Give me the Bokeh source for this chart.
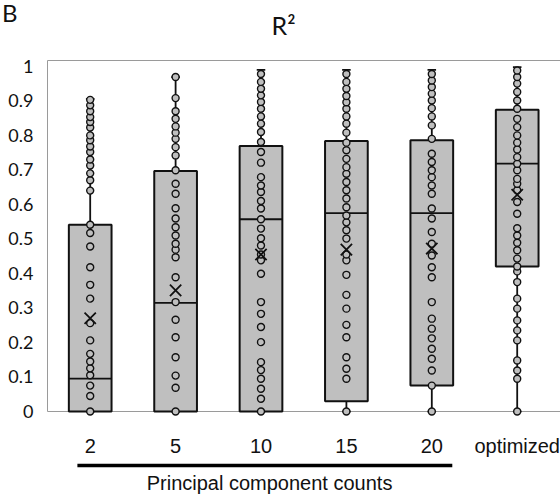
from bokeh.plotting import figure
from bokeh.models import ColumnDataSource, Range1d
from bokeh.core.properties import value
from bokeh.embed import file_html
from bokeh.resources import INLINE

# ---- data ----
categories = ["2", "5", "10", "15", "20", "optimized"]
q1 = [0.0, 0.0, 0.0, 0.03, 0.075, 0.42]
median = [0.095, 0.315, 0.557, 0.575, 0.575, 0.718]
q3 = [0.541, 0.697, 0.769, 0.784, 0.786, 0.874]
low = [0.0, 0.0, 0.0, 0.0, 0.0, 0.0]
high = [0.906, 0.969, 0.99, 0.99, 0.99, 0.998]
mean = [0.27, 0.351, 0.455, 0.469, 0.472, 0.628]

pts_2 = [0, 0.045, 0.075, 0.105, 0.125, 0.145, 0.167, 0.206, 0.256, 0.327, 0.367,
         0.418, 0.478, 0.517, 0.541, 0.64, 0.67, 0.69, 0.713, 0.73, 0.752, 0.768,
         0.786, 0.80, 0.823, 0.839, 0.853, 0.870, 0.887, 0.903]
pts_5 = [0, 0.069, 0.104, 0.157, 0.215, 0.266, 0.317, 0.389, 0.447, 0.469, 0.486,
         0.510, 0.534, 0.559, 0.589, 0.631, 0.660, 0.699, 0.742, 0.766, 0.790,
         0.808, 0.826, 0.848, 0.870, 0.908, 0.969]
pts_10 = [0, 0.037, 0.066, 0.095, 0.120, 0.143, 0.201, 0.245, 0.283, 0.317, 0.399,
          0.438, 0.455, 0.481, 0.502, 0.530, 0.557, 0.588, 0.610, 0.636, 0.655,
          0.679, 0.721, 0.752, 0.781, 0.810, 0.834, 0.855, 0.877, 0.897, 0.916,
          0.935, 0.955, 0.978]
pts_15 = [0, 0.095, 0.124, 0.157, 0.215, 0.251, 0.298, 0.338, 0.396, 0.438, 0.455,
          0.501, 0.525, 0.548, 0.568, 0.592, 0.617, 0.641, 0.665, 0.689, 0.708,
          0.732, 0.757, 0.779, 0.808, 0.834, 0.855, 0.877, 0.896, 0.914, 0.935,
          0.955, 0.978]
pts_20 = [0, 0.075, 0.119, 0.153, 0.182, 0.212, 0.240, 0.269, 0.317, 0.389, 0.418,
          0.452, 0.486, 0.520, 0.559, 0.588, 0.631, 0.655, 0.679, 0.699, 0.723,
          0.747, 0.790, 0.829, 0.855, 0.879, 0.901, 0.921, 0.940, 0.959, 0.978]
pts_opt = [0, 0.095, 0.119, 0.148, 0.206, 0.235, 0.264, 0.298, 0.327, 0.375, 0.406,
           0.420, 0.443, 0.467, 0.489, 0.510, 0.531, 0.573, 0.607, 0.641, 0.660,
           0.674, 0.699, 0.718, 0.737, 0.759, 0.779, 0.800, 0.824, 0.848, 0.877,
           0.901, 0.926, 0.950, 0.969, 0.988]
points = [pts_2, pts_5, pts_10, pts_15, pts_20, pts_opt]

y_ticks = [0, 0.1, 0.2, 0.3, 0.4, 0.5, 0.6, 0.7, 0.8, 0.9, 1]
y_tick_labels = ["0", "0.1", "0.2", "0.3", "0.4", "0.5", "0.6", "0.7", "0.8", "0.9", "1"]

title_text = "R\u00b2"
panel_letter = "B"
group_label = "Principal component counts"
group_first, group_last = 1, 5     # categories "2" .. "20" are bracketed

# ---- layout (pixels) ----
W, H = 560, 495
LEFT_PX = 47            # plot area starts here
TOP_PX = 60             # y = Y_TOP here
ZERO_PX = 411           # y = 0 here
Y_TOP = 1.017
CAT_PX = 85.4           # one category step
BOX_W = 0.5
CAP_W = 0.1
INK = "#111111"
BOX_FILL = "#BFBFBF"
FRAME = "#9a9a9a"

ppu = (ZERO_PX - TOP_PX) / Y_TOP            # pixels per unit of R^2


def yv(px):                                   # canvas row -> data value
    return (ZERO_PX - px) / ppu


def xv(px):                                   # canvas column -> category coordinate
    return 0.5 + (px - LEFT_PX) / CAT_PX


xpos = list(range(1, len(categories) + 1))
X_END = xv(W)

stats = ColumnDataSource(dict(
    x=xpos, q1=q1, med=median, q3=q3, lo=low, hi=high, mean=mean,
    xl=[x - BOX_W / 2 for x in xpos], xr=[x + BOX_W / 2 for x in xpos],
    cl=[x - CAP_W / 2 for x in xpos], cr=[x + CAP_W / 2 for x in xpos],
))
px, py = [], []
for x, vals in zip(xpos, points):
    px += [x] * len(vals)
    py += vals
pts = ColumnDataSource(dict(x=px, y=py))

p = figure(width=W, height=H, output_backend="svg", toolbar_location=None,
           x_range=Range1d(xv(0), X_END), y_range=Range1d(yv(H), yv(0)),
           x_axis_location=None, y_axis_location=None, min_border=0,
           background_fill_color="white", border_fill_color="white")
p.xgrid.visible = False
p.ygrid.visible = False
p.outline_line_color = None

# plot-area border (left, top) and category axis line
p.segment(x0=[0.5, 0.5, 0.5], y0=[0, Y_TOP, 0], x1=[0.5, X_END, X_END], y1=[Y_TOP, Y_TOP, 0],
          line_color=FRAME, line_width=1)

# whiskers and caps
p.segment(x0="x", y0="q3", x1="x", y1="hi", source=stats, line_color=INK, line_width=1.8)
p.segment(x0="x", y0="lo", x1="x", y1="q1", source=stats, line_color=INK, line_width=1.8)
p.segment(x0="cl", y0="hi", x1="cr", y1="hi", source=stats, line_color=INK, line_width=1.8)
p.segment(x0="cl", y0="lo", x1="cr", y1="lo", source=stats, line_color=INK, line_width=1.8)
# boxes and medians
p.vbar(x="x", width=BOX_W, bottom="q1", top="q3", source=stats,
       fill_color=BOX_FILL, line_color=INK, line_width=2)
p.segment(x0="xl", y0="med", x1="xr", y1="med", source=stats, line_color=INK, line_width=1.8)
# inner points and means
p.scatter(x="x", y="y", source=pts, marker="circle", size=7,
          fill_color=BOX_FILL, line_color=INK, line_width=1.4)
p.scatter(x="x", y="mean", source=stats, marker="x", size=16,
          line_color=INK, line_width=1.8)

# value-axis tick labels
p.text(x=[xv(33)] * len(y_ticks), y=y_ticks, text=y_tick_labels,
       text_align="right", text_baseline="middle", text_font=value("Lato"),
       text_font_size="18px", text_color=INK)

# category labels
p.text(x=xpos, y=[yv(445)] * len(xpos), text=categories,
       text_align="center", text_baseline="middle",
       text_font=value("Liberation Sans"), text_font_size="20px", text_color=INK)

# group bracket and its label
p.segment(x0=[group_first - 0.15], x1=[group_last + 0.24], y0=[yv(465)], y1=[yv(465)],
          line_color="black", line_width=3.4)
p.text(x=[(group_first + group_last) / 2 + 0.1], y=[yv(482)], text=[group_label],
       text_align="center", text_baseline="middle",
       text_font=value("Liberation Sans"), text_font_size="20px", text_color=INK)

# title and panel letter
p.text(x=[xv(283)], y=[yv(24)], text=[title_text], text_align="center",
       text_baseline="middle", text_font=value("Lato"),
       text_font_size="25px", text_color=INK)
p.text(x=[xv(17)], y=[yv(12)], text=[panel_letter], text_align="right",
       text_baseline="middle", text_font=value("Lato"),
       text_font_size="24px", text_color=INK)

open("out.html", "w").write(file_html(p, INLINE))
